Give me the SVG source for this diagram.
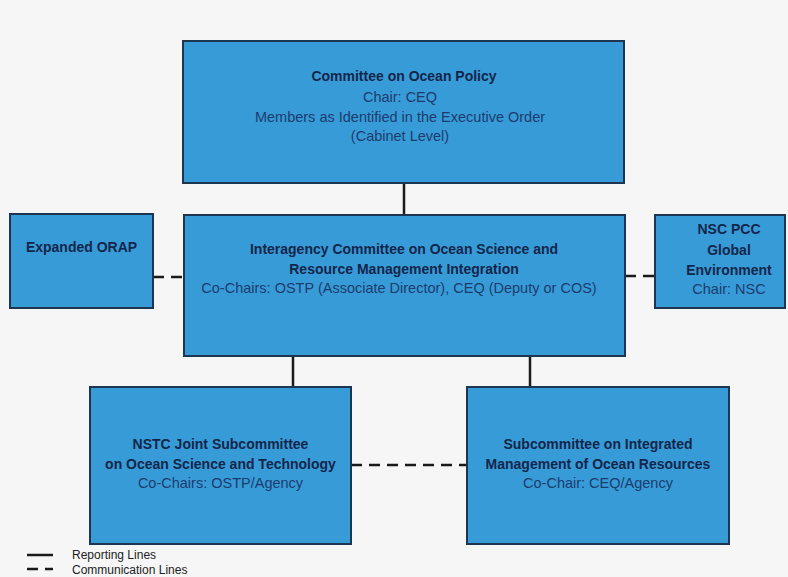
<svg xmlns="http://www.w3.org/2000/svg" width="788" height="577" viewBox="0 0 788 577">
<style>
.box{fill:#379bd8;stroke:#1c3550;stroke-width:2}
.b{font-family:"Liberation Sans",Arial,sans-serif;font-size:14px;font-weight:bold;fill:#13264a;text-anchor:middle}
.r{font-family:"Liberation Sans",Arial,sans-serif;font-size:14.5px;fill:#1d3c6e;text-anchor:middle}
.solid{stroke:#1a1a1a;stroke-width:2.5;fill:none}
.dash{stroke:#1a1a1a;stroke-width:2.5;fill:none;stroke-dasharray:11 7}
.leg{font-family:"Liberation Sans",Arial,sans-serif;font-size:12px;fill:#222}
</style>
<rect width="788" height="577" fill="#f6f6f6"/>
<g id="connectors">
<line class="solid" x1="404" y1="183" x2="404" y2="215"/>
<line class="solid" x1="293" y1="356" x2="293" y2="387"/>
<line class="solid" x1="530" y1="356" x2="530" y2="387"/>
<line class="dash" x1="153" y1="277" x2="184" y2="277"/>
<line class="dash" x1="625" y1="276" x2="655" y2="276"/>
<line class="dash" x1="351" y1="465" x2="467" y2="465"/>
</g>
<g id="ocean-policy">
<rect class="box" x="183" y="41" width="441" height="142"/>
<text class="b" x="404" y="81">Committee on Ocean Policy</text>
<text class="r" x="400" y="102">Chair: CEQ</text>
<text class="r" x="400" y="122">Members as Identified in the Executive Order</text>
<text class="r" x="400" y="141">(Cabinet Level)</text>
</g>
<g id="orap">
<rect class="box" x="10" y="214" width="143" height="94"/>
<text class="b" x="81.5" y="252">Expanded ORAP</text>
</g>
<g id="interagency">
<rect class="box" x="184" y="215" width="441" height="141"/>
<text class="b" x="404" y="254">Interagency Committee on Ocean Science and</text>
<text class="b" x="404" y="274">Resource Management Integration</text>
<text class="r" x="399" y="293">Co-Chairs: OSTP (Associate Director), CEQ (Deputy or COS)</text>
</g>
<g id="nsc">
<rect class="box" x="655" y="215" width="130" height="93"/>
<text class="b" x="729" y="234">NSC PCC</text>
<text class="b" x="729" y="255">Global</text>
<text class="b" x="729" y="275">Environment</text>
<text class="r" x="729" y="294">Chair: NSC</text>
</g>
<g id="nstc">
<rect class="box" x="90" y="387" width="261" height="157"/>
<text class="b" x="220.5" y="449">NSTC Joint Subcommittee</text>
<text class="b" x="220.5" y="469">on Ocean Science and Technology</text>
<text class="r" x="220.5" y="488">Co-Chairs: OSTP/Agency</text>
</g>
<g id="subcommittee">
<rect class="box" x="467" y="387" width="262" height="157"/>
<text class="b" x="598" y="449">Subcommittee on Integrated</text>
<text class="b" x="598" y="469">Management of Ocean Resources</text>
<text class="r" x="598" y="488">Co-Chair: CEQ/Agency</text>
</g>
<g id="legend">
<line class="solid" x1="27" y1="555" x2="53" y2="555" stroke-width="3"/>
<text class="leg" x="72" y="559">Reporting Lines</text>
<line class="dash" x1="27" y1="569" x2="53" y2="569" stroke-width="3" stroke-dasharray="9 6"/>
<text class="leg" x="72" y="573.5">Communication Lines</text>
</g>
</svg>
